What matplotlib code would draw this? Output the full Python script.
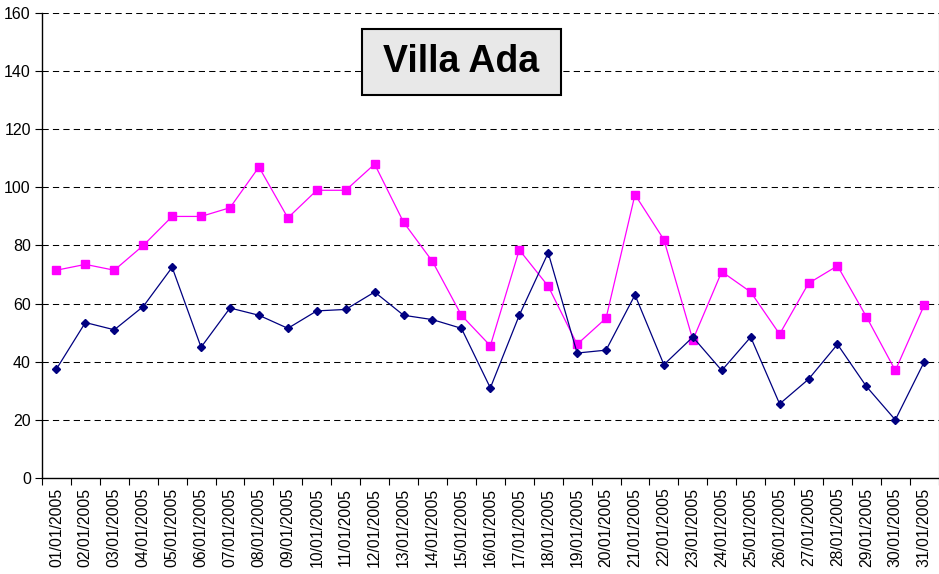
import matplotlib.pyplot as plt
from matplotlib.patches import Rectangle
import numpy as np

days = ["%02d/01/2005" % d for d in range(1, 32)]

pink = [71.5, 73.5, 71.5, 80, 90, 90, 93, 107, 89.5, 99, 99, 108, 88, 74.5, 56, 45.5,
        78.5, 66, 46, 55, 97.5, 82, 47.5, 71, 64, 49.5, 67, 73, 55.5, 37, 59.5]
navy = [37.5, 53.5, 51, 59, 72.5, 45, 58.5, 56, 51.5, 57.5, 58, 64, 56, 54.5, 51.5, 31,
        56, 77.5, 43, 44, 63, 39, 48.5, 37, 48.5, 25.5, 34, 46, 31.5, 20, 40]

plt.rcParams['font.family'] = ['Liberation Sans', 'DejaVu Sans']

fig = plt.figure(figsize=(9.39, 5.74), dpi=100)
ax = fig.add_axes([0.0447, 0.1672, 0.955, 0.8102])

x = np.arange(len(days))
ax.plot(x, pink, color='#FF00FF', lw=0.9, marker='s', markersize=5.5, zorder=3)
ax.plot(x, navy, color='#000080', lw=0.9, marker='D', markersize=4, zorder=4)

ax.set_xlim(-0.5, len(days) - 0.5)
ax.set_ylim(0, 160)
ax.set_yticks(np.arange(0, 161, 20))
ax.set_xticks(x)
ax.set_xticklabels(days, rotation=90, fontsize=11.3)
ax.set_xticks(np.arange(-0.5, len(days), 1), minor=True)
ax.tick_params(axis='x', which='major', length=0, pad=7)
ax.tick_params(axis='x', which='minor', length=5, width=0.8, direction='out')
ax.tick_params(axis='y', length=5, width=0.8, labelsize=11.5, pad=3)

for yv in range(20, 161, 20):
    ax.axhline(yv, color='black', lw=0.75, dashes=(6, 4), zorder=1)

ax.spines['top'].set_visible(False)
ax.spines['right'].set_color('#808080')
ax.spines['left'].set_linewidth(1.0)
ax.spines['bottom'].set_linewidth(1.0)

# title box
ax.add_patch(Rectangle((0.3567, 0.8237), 0.2219, 0.1419, transform=ax.transAxes,
                       facecolor='#E8E8E8', edgecolor='black', lw=1.5, zorder=5))
ax.text(0.4677, 0.8946, "Villa Ada", transform=ax.transAxes, ha='center', va='center',
        fontsize=27, fontweight='bold', zorder=6)

fig.savefig("out.png", dpi=100)
